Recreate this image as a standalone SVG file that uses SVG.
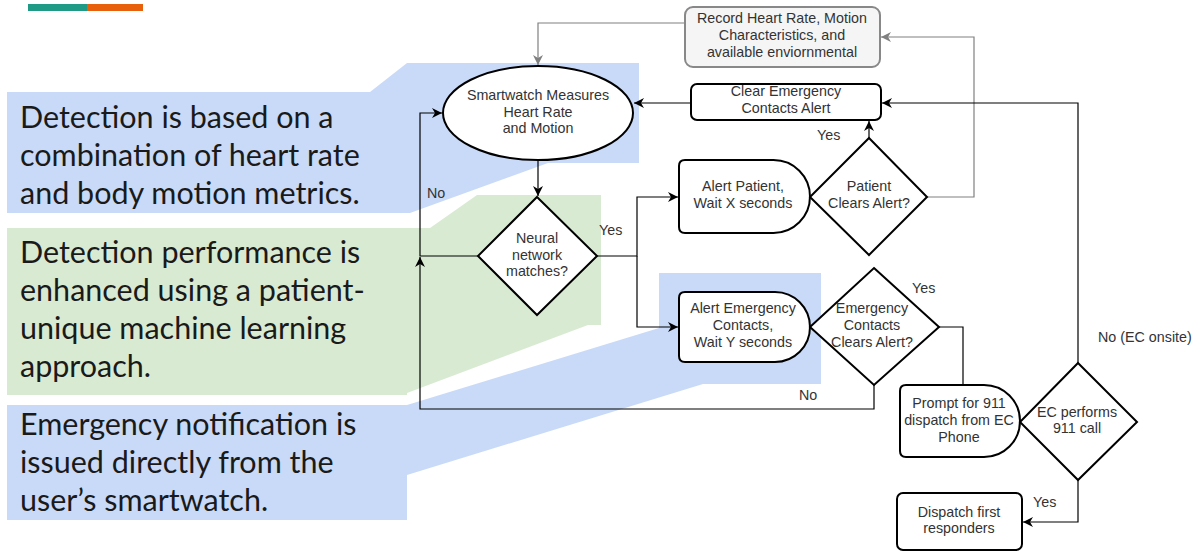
<svg xmlns="http://www.w3.org/2000/svg" width="1201" height="552" viewBox="0 0 1201 552">
  <defs>
    <style>
      .callout-text { font-family: Lato, "Liberation Sans", sans-serif; font-size: 30.5px; fill: #1a1a1a; }
      .node { fill: #ffffff; stroke: #000000; stroke-width: 2; }
      .node-gray { fill: #f5f5f5; stroke: #888888; stroke-width: 2; }
      .label { font-family: "Liberation Sans", Arial, sans-serif; font-size: 14.3px; fill: #333333; text-anchor: middle; }
      .edge-label { font-family: "Liberation Sans", Arial, sans-serif; font-size: 14.3px; fill: #333333; }
      .edge { fill: none; stroke: #000000; stroke-width: 1.2; }
      .edge-gray { fill: none; stroke: #808080; stroke-width: 1.2; }
    </style>
    <marker id="arrow" markerUnits="userSpaceOnUse" markerWidth="12" markerHeight="12" refX="10" refY="5" orient="auto">
      <path d="M0,0 L10,5 L0,10 L3,5 Z" fill="#000000"/>
    </marker>
    <marker id="arrow-gray" markerUnits="userSpaceOnUse" markerWidth="12" markerHeight="12" refX="10" refY="5" orient="auto">
      <path d="M0,0 L10,5 L0,10 L3,5 Z" fill="#808080"/>
    </marker>
  </defs>

  <rect width="1201" height="552" fill="#ffffff"/>

  <!-- accent bar -->
  <rect x="28" y="4" width="59" height="7" fill="#1e9a86"/>
  <rect x="87" y="4" width="56" height="7" fill="#e8600c"/>

  <!-- callouts -->
  <g id="callout-detection">
    <polygon points="7,92 370,92 407,63 639,63 639,163 548,163 410,213 7,213" fill="#c9daf8"/>
    <text class="callout-text" x="20" y="128">Detection is based on a</text>
    <text class="callout-text" x="20" y="166">combination of heart rate</text>
    <text class="callout-text" x="20" y="204">and body motion metrics.</text>
  </g>
  <g id="callout-performance">
    <polygon points="7,228 430,228 477,195 601,195 601,325 588,325 407,393 407,395 7,395" fill="#d9ead3"/>
    <text class="callout-text" x="20" y="263">Detection performance is</text>
    <text class="callout-text" x="20" y="301">enhanced using a patient-</text>
    <text class="callout-text" x="20" y="339">unique machine learning</text>
    <text class="callout-text" x="20" y="377">approach.</text>
  </g>
  <g id="callout-notification">
    <polygon points="7,405 407,405 659,328 659,273 821,273 821,384 703,384 407,475 407,520 7,520" fill="#c9daf8"/>
    <text class="callout-text" x="20" y="435">Emergency notification is</text>
    <text class="callout-text" x="20" y="473">issued directly from the</text>
    <text class="callout-text" x="20" y="511">user’s smartwatch.</text>
  </g>

  <!-- connectors -->
  <g id="connectors">
    <polyline class="edge-gray" points="685,23 538,23 538,65" marker-end="url(#arrow-gray)"/>
    <polyline class="edge-gray" points="927,197 974,197 974,37 881,37" marker-end="url(#arrow-gray)"/>
    <line class="edge" x1="691" y1="103" x2="634" y2="103" marker-end="url(#arrow)"/>
    <polyline class="edge" points="1078,363 1078,103 882,103" marker-end="url(#arrow)"/>
    <line class="edge" x1="869" y1="138" x2="869" y2="121" marker-end="url(#arrow)"/>
    <line class="edge" x1="538" y1="160" x2="538" y2="196" marker-end="url(#arrow)"/>
    <polyline class="edge" points="478,256 420,256 420,113 442,113" marker-end="url(#arrow)"/>
    <polyline class="edge" points="874,385 874,409 420,409 420,257" marker-end="url(#arrow)"/>
    <polyline class="edge" points="597,256 637,256 637,197 678,197" marker-end="url(#arrow)"/>
    <polyline class="edge" points="637,256 637,327 678,327" marker-end="url(#arrow)"/>
    <polyline class="edge" points="939,327 963,327 963,385"/>
    <polyline class="edge" points="1078,480 1078,522 1023,522" marker-end="url(#arrow)"/>

    <text class="edge-label" x="599" y="235">Yes</text>
    <text class="edge-label" x="427" y="198">No</text>
    <text class="edge-label" x="817" y="140">Yes</text>
    <text class="edge-label" x="912" y="293">Yes</text>
    <text class="edge-label" x="799" y="400">No</text>
    <text class="edge-label" x="1098" y="342">No (EC onsite)</text>
    <text class="edge-label" x="1033" y="507">Yes</text>
  </g>

  <!-- nodes -->
  <g id="record">
    <rect class="node-gray" x="685" y="7" width="195" height="60" rx="8"/>
    <text class="label" x="782" y="23">Record Heart Rate, Motion</text>
    <text class="label" x="782" y="40">Characteristics, and</text>
    <text class="label" x="782" y="57">available enviornmental</text>
  </g>

  <g id="measure">
    <ellipse class="node" cx="538" cy="113" rx="95" ry="47"/>
    <text class="label" x="538" y="100">Smartwatch Measures</text>
    <text class="label" x="538" y="117">Heart Rate</text>
    <text class="label" x="538" y="133">and Motion</text>
  </g>

  <g id="clear-alert">
    <rect class="node" x="691" y="84" width="190" height="36" rx="6"/>
    <text class="label" x="786" y="96">Clear Emergency</text>
    <text class="label" x="786" y="113">Contacts Alert</text>
  </g>

  <g id="neural">
    <polygon class="node" points="537,197 597,256 537,315 478,256"/>
    <text class="label" x="537" y="243">Neural</text>
    <text class="label" x="537" y="260">network</text>
    <text class="label" x="537" y="276">matches?</text>
  </g>

  <g id="alert-patient">
    <path class="node" d="M685,160 H773.5 A36.5,36.5 0 0 1 773.5,233 H685 Q679,233 679,227 V166 Q679,160 685,160 Z"/>
    <text class="label" x="743" y="191">Alert Patient,</text>
    <text class="label" x="743" y="208">Wait X seconds</text>
  </g>

  <g id="patient-clears">
    <polygon class="node" points="869,138 927,197 869,255 810,197"/>
    <text class="label" x="869" y="191">Patient</text>
    <text class="label" x="869" y="208">Clears Alert?</text>
  </g>

  <g id="alert-contacts">
    <path class="node" d="M685,292 H775 A35,35 0 0 1 775,362 H685 Q679,362 679,356 V298 Q679,292 685,292 Z"/>
    <text class="label" x="743" y="313">Alert Emergency</text>
    <text class="label" x="743" y="330">Contacts,</text>
    <text class="label" x="743" y="347">Wait Y seconds</text>
  </g>

  <g id="contacts-clear">
    <polygon class="node" points="874,268 939,327 874,385 810,327"/>
    <text class="label" x="872" y="313">Emergency</text>
    <text class="label" x="872" y="330">Contacts</text>
    <text class="label" x="872" y="347">Clears Alert?</text>
  </g>

  <g id="prompt-911">
    <path class="node" d="M906,385 H984 A36,36 0 0 1 984,457 H906 Q900,457 900,451 V391 Q900,385 906,385 Z"/>
    <text class="label" x="959" y="408">Prompt for 911</text>
    <text class="label" x="959" y="425">dispatch from EC</text>
    <text class="label" x="959" y="442">Phone</text>
  </g>

  <g id="ec-call">
    <polygon class="node" points="1078,363 1137,422 1078,480 1020,422"/>
    <text class="label" x="1077" y="417">EC performs</text>
    <text class="label" x="1077" y="433">911 call</text>
  </g>

  <g id="dispatch">
    <rect class="node" x="897" y="493" width="125" height="57" rx="6"/>
    <text class="label" x="959" y="517">Dispatch first</text>
    <text class="label" x="959" y="533">responders</text>
  </g>
</svg>
